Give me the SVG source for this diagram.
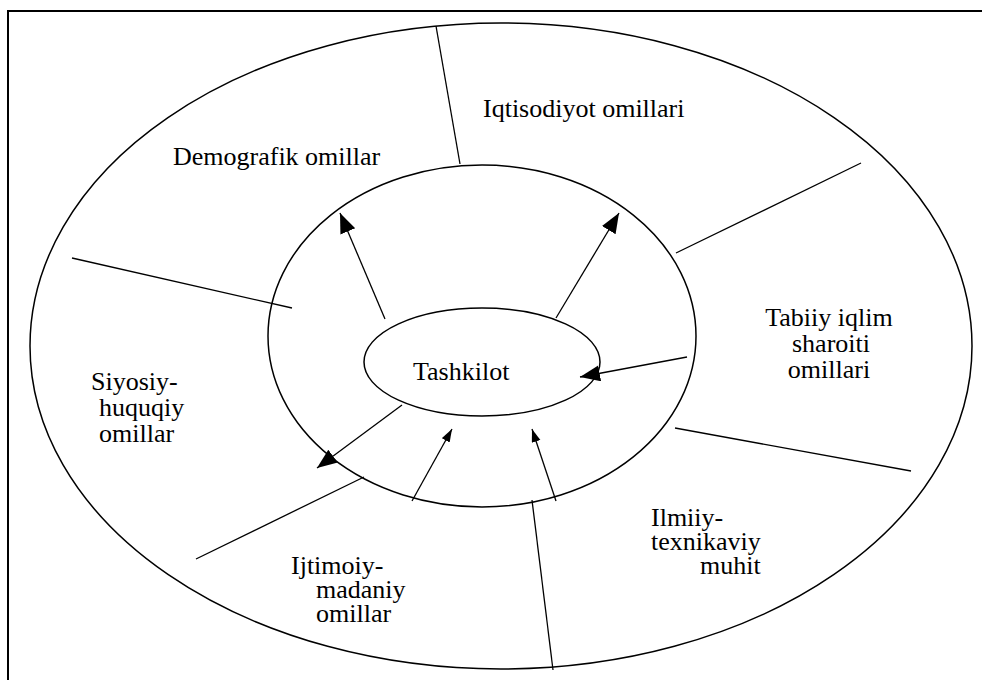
<svg xmlns="http://www.w3.org/2000/svg" width="982" height="680" viewBox="0 0 982 680">
  <style>
    .frame { fill: none; stroke: #000; stroke-width: 2; }
    .ring { fill: none; stroke: #000; stroke-width: 1.5; }
    .sep { stroke: #000; stroke-width: 1.3; fill: none; }
    .arr { stroke: #000; stroke-width: 1.3; fill: none; }
    .big { marker-end: url(#headBig); }
    .small { marker-end: url(#headSmall); }
  </style>
  <defs>
    <marker id="headBig" markerUnits="userSpaceOnUse" markerWidth="22" markerHeight="18" refX="20" refY="8" orient="auto">
      <path d="M0,0 L20,8 L0,16 z" fill="#000"/>
    </marker>
    <marker id="headSmall" markerUnits="userSpaceOnUse" markerWidth="15" markerHeight="10" refX="13" refY="4.5" orient="auto">
      <path d="M0,0 L13,4.5 L0,9 z" fill="#000"/>
    </marker>
  </defs>

  <rect width="982" height="680" fill="#fff"/>
  <!-- page frame, right and bottom edges run off the page -->
  <rect class="frame" x="8" y="11" width="990" height="690"/>

  <g id="environment">
    <ellipse class="ring" cx="501" cy="346" rx="471" ry="323"/>
  </g>
  <g id="inner-ring">
    <ellipse class="ring" cx="482" cy="336" rx="214" ry="171"/>
  </g>

  <!-- sector dividers -->
  <g id="dividers">
    <line class="sep" x1="436" y1="26" x2="460" y2="164"/>
    <line class="sep" x1="861" y1="163" x2="676" y2="253"/>
    <line class="sep" x1="72" y1="258" x2="292" y2="308"/>
    <line class="sep" x1="675" y1="428" x2="911" y2="471"/>
    <line class="sep" x1="196" y1="559" x2="364" y2="477"/>
    <line class="sep" x1="532" y1="500" x2="553" y2="670"/>
  </g>

  <!-- influence arrows -->
  <g id="connectors">
    <line class="arr big" x1="385" y1="319" x2="340" y2="213"/>
    <line class="arr big" x1="556" y1="318" x2="619" y2="213"/>
    <line class="arr big" x1="687" y1="357" x2="580" y2="377"/>
    <line class="arr big" x1="402" y1="405" x2="317" y2="468"/>
    <line class="arr small" x1="412" y1="501" x2="452" y2="429"/>
    <line class="arr small" x1="556" y1="501" x2="532" y2="429"/>
  </g>

  <g font-family="Liberation Serif, Times New Roman, Tinos, Noto Serif, DejaVu Serif, serif" font-size="26" fill="#000">
    <g id="tashkilot">
      <ellipse class="ring" cx="482" cy="362" rx="118" ry="54"/>
      <text x="413" y="380">Tashkilot</text>
    </g>
    <g id="demografik">
      <text x="173" y="165">Demografik omillar</text>
    </g>
    <g id="iqtisodiyot">
      <text x="483" y="117">Iqtisodiyot omillari</text>
    </g>
    <g id="tabiiy">
      <text text-anchor="middle"><tspan x="829" y="326">Tabiiy iqlim</tspan><tspan x="831" y="352">sharoiti</tspan><tspan x="829" y="378">omillari</tspan></text>
    </g>
    <g id="siyosiy">
      <text><tspan x="91" y="390">Siyosiy-</tspan><tspan x="99" y="416">huquqiy</tspan><tspan x="99" y="442">omillar</tspan></text>
    </g>
    <g id="ilmiy">
      <text><tspan x="651" y="526">Ilmiiy-</tspan><tspan x="651" y="550">texnikaviy</tspan><tspan x="700" y="574">muhit</tspan></text>
    </g>
    <g id="ijtimoiy">
      <text><tspan x="291" y="574">Ijtimoiy-</tspan><tspan x="316" y="598">madaniy</tspan><tspan x="316" y="622">omillar</tspan></text>
    </g>
  </g>
</svg>
